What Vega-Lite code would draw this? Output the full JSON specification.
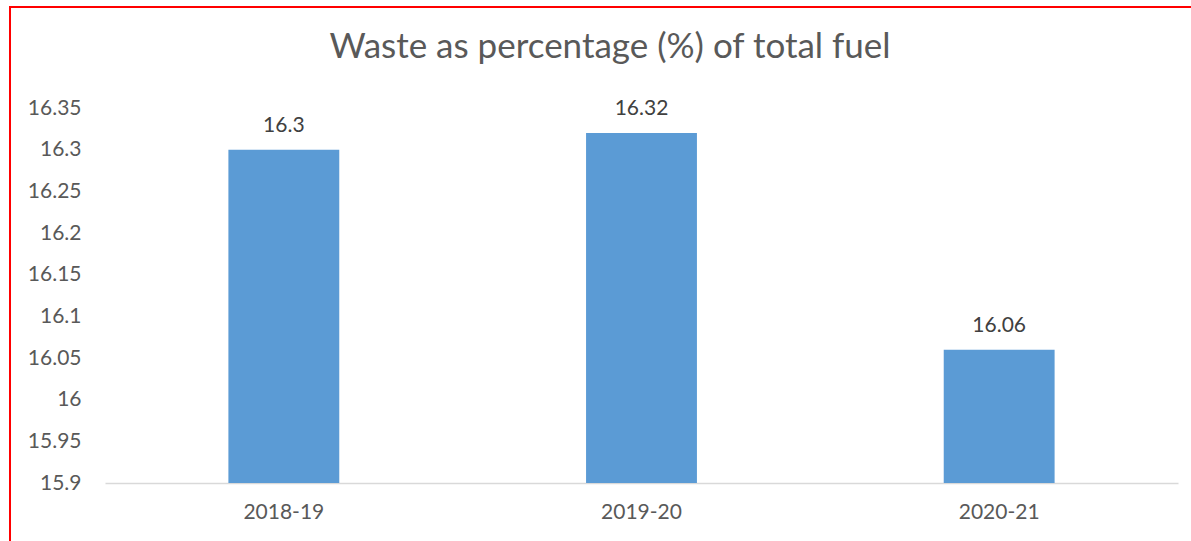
{
  "$schema": "https://vega.github.io/schema/vega-lite/v6.json",
  "width": 1200,
  "height": 560,
  "autosize": "none",
  "padding": {"left": 10, "top": 7, "right": 0, "bottom": 0},
  "background": "white",
  "title": {
    "text": "Waste as percentage (%) of total fuel",
    "font": "Lato",
    "fontSize": 35,
    "fontWeight": "normal",
    "color": "#595959",
    "anchor": "middle",
    "frame": "group",
    "offset": -58
  },
  "data": {
    "values": [
      {"year": "2018-19", "value": 16.3},
      {"year": "2019-20", "value": 16.32},
      {"year": "2020-21", "value": 16.06}
    ]
  },
  "encoding": {
    "x": {
      "field": "year",
      "type": "nominal",
      "sort": null,
      "scale": {"range": [95, 1168], "paddingInner": 0.69, "paddingOuter": 0.345},
      "axis": {
        "title": null,
        "labelAngle": 0,
        "ticks": false,
        "grid": false,
        "domainColor": "#D9D9D9",
        "domainWidth": 1.5,
        "labelPadding": 18,
        "labelFont": "Lato",
        "labelFontSize": 21,
        "labelColor": "#595959",
        "offset": -84
      }
    },
    "y": {
      "field": "value",
      "type": "quantitative",
      "scale": {"domain": [15.9, 16.35], "range": [476, 101], "zero": false, "nice": false},
      "axis": {
        "title": null,
        "domain": false,
        "ticks": false,
        "grid": false,
        "values": [15.9, 15.95, 16, 16.05, 16.1, 16.15, 16.2, 16.25, 16.3, 16.35],
        "format": ".4~g",
        "labelPadding": 24,
        "labelFont": "Lato",
        "labelFontSize": 21,
        "labelColor": "#595959",
        "offset": -95
      }
    }
  },
  "layer": [
    {
      "mark": {"type": "bar", "color": "#5B9BD5"},
      "encoding": {"y2": {"datum": 15.9}}
    },
    {
      "mark": {"type": "text", "font": "Lato", "fontSize": 21, "color": "#404040", "baseline": "alphabetic", "dy": -18},
      "encoding": {"text": {"field": "value", "type": "quantitative", "format": "~g"}}
    }
  ],
  "config": {
    "view": {"stroke": "#FF0000", "strokeWidth": 2}
  }
}
